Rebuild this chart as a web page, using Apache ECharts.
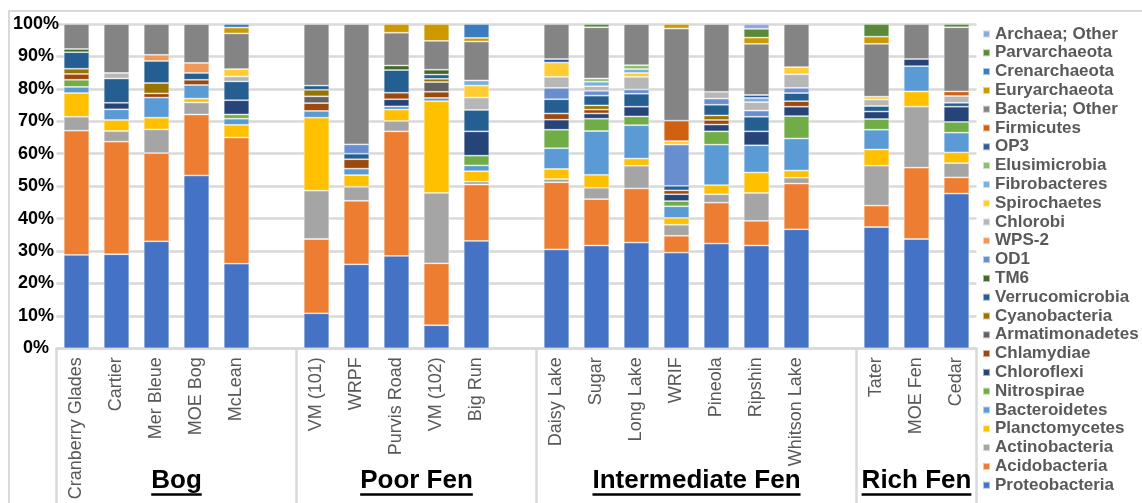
<!DOCTYPE html>
<html>
<head>
<meta charset="utf-8">
<script src="https://cdn.jsdelivr.net/npm/echarts@6/dist/echarts.min.js"></script>
<style>
  html, body { margin: 0; padding: 0; background: #ffffff; }
  #chart { width: 1142px; height: 503px; }
</style>
</head>
<body>
<div id="chart"></div>
<script>
// Peatland sites, grouped by fen/bog type
const groupNames = ['Bog', 'Poor Fen', 'Intermediate Fen', 'Rich Fen'];
const groupSizes = [5, 5, 7, 3];
const sites = [
  'Cranberry Glades', 'Cartier', 'Mer Bleue', 'MOE Bog', 'McLean',
  'VM (101)', 'WRPF', 'Purvis Road', 'VM (102)', 'Big Run',
  'Daisy Lake', 'Sugar', 'Long Lake', 'WRIF', 'Pineola', 'Ripshin', 'Whitson Lake',
  'Tater', 'MOE Fen', 'Cedar'
];

// Relative abundance (%) of each phylum per site, same order as `sites`
const proteobacteria  = [28.8, 29.0, 33.0, 53.3, 26.1, 10.8, 25.9, 28.5, 7.1, 33.1, 30.5, 31.7, 32.6, 29.5, 32.3, 31.7, 36.7, 37.4, 33.7, 47.7];
const acidobacteria   = [38.3, 34.7, 27.2, 18.8, 38.9, 22.9, 19.6, 38.4, 19.1, 17.4, 20.7, 14.3, 16.7, 5.2, 12.6, 7.6, 14.1, 6.6, 22.0, 5.0];
const actinobacteria  = [4.3, 3.3, 7.3, 3.7, 0, 14.9, 4.3, 3.2, 21.7, 0.9, 1.0, 3.5, 7.0, 3.4, 2.6, 8.6, 1.8, 12.3, 18.8, 4.4];
const planctomycetes  = [7.3, 3.4, 3.6, 1.2, 3.9, 22.5, 3.6, 3.5, 28.3, 3.2, 3.1, 4.0, 2.2, 2.1, 2.8, 6.3, 2.2, 5.0, 4.7, 3.3];
const bacteroidetes   = [1.9, 3.3, 6.2, 4.2, 1.9, 2.1, 2.0, 1.0, 1.0, 1.8, 6.4, 13.5, 10.3, 3.6, 12.5, 8.4, 9.9, 6.1, 7.8, 6.1];
const nitrospirae     = [2.2, 0, 0, 0, 1.3, 0, 0, 0, 0, 3.0, 5.7, 3.8, 2.7, 1.6, 4.1, 0, 6.9, 3.3, 0, 3.3];
const chloroflexi     = [0, 2.0, 0, 0, 4.4, 0, 0, 2.2, 0, 7.5, 3.1, 1.6, 3.0, 2.1, 2.1, 4.3, 2.9, 2.3, 2.2, 4.7];
const chlamydiae      = [1.8, 0, 1.3, 1.6, 0, 2.4, 2.9, 2.0, 1.9, 0, 1.9, 1.2, 0, 1.2, 1.4, 0, 1.7, 0, 0, 0];
const armatimonadetes = [0, 0, 0, 0, 0, 2.1, 0, 0, 3.0, 0, 0, 0, 0, 0, 0, 0, 0, 0, 0, 0];
const cyanobacteria   = [1.6, 0, 3.2, 0, 0, 2.0, 0, 0, 1.0, 0, 0, 1.3, 0, 0, 1.4, 0, 0, 0, 0, 0];
const verrucomicrobia = [5.1, 7.5, 6.8, 2.1, 5.8, 1.3, 1.7, 7.0, 1.3, 6.6, 4.4, 3.0, 4.0, 1.4, 3.3, 4.5, 2.5, 1.7, 0, 1.2];
const tm6             = [1.0, 0, 0, 0, 0, 0, 0, 1.4, 1.5, 0, 0, 0, 0, 0, 0, 0, 0, 0, 0, 0];
const od1             = [0, 0, 0, 0, 0, 0, 2.9, 0, 0, 0, 3.5, 1.5, 1.3, 12.7, 1.9, 1.9, 1.6, 0, 0, 0];
const wps2            = [0, 0, 1.9, 3.1, 0, 0, 0, 0, 0, 0, 0, 0, 0, 0, 0, 0, 0, 0, 0, 0];
const chlorobi        = [0, 1.7, 0, 0, 1.5, 0, 0, 0, 0, 3.8, 3.4, 1.4, 3.9, 0, 2.1, 2.6, 4.2, 2.0, 0, 2.1];
const spirochaetes    = [0, 0, 0, 0, 2.3, 0, 0, 0, 0, 3.7, 4.4, 0, 1.2, 1.1, 0, 0, 2.2, 0.9, 0, 0];
const fibrobacteres   = [0, 0, 0, 0, 0, 0, 0, 0, 0, 1.6, 0, 1.4, 1.2, 0, 0, 1.3, 0, 0, 0, 0];
const elusimicrobia   = [0, 0, 0, 0, 0, 0, 0, 0, 0, 0, 0, 1.0, 1.2, 0, 0, 0, 0, 0, 0, 0];
const op3             = [0, 0, 0, 0, 0, 0, 0, 0, 0, 0, 1.1, 0, 0, 0, 0, 0.9, 0, 0, 0, 0];
const firmicutes      = [0, 0, 0, 0, 0, 0, 0, 0, 0, 0, 0, 0, 0, 6.3, 0, 0, 0, 0, 0, 1.4];
const bacteriaOther   = [7.7, 15.1, 9.5, 12.0, 11.0, 19.0, 37.1, 10.1, 8.9, 12.0, 10.8, 15.8, 12.7, 28.4, 20.9, 15.8, 13.3, 16.3, 10.8, 19.8];
const euryarchaeota   = [0, 0, 0, 0, 1.8, 0, 0, 2.7, 5.2, 1.1, 0, 0, 0, 1.4, 0, 1.9, 0, 2.2, 0, 0];
const crenarchaeota   = [0, 0, 0, 0, 1.1, 0, 0, 0, 0, 4.3, 0, 0, 0, 0, 0, 0, 0, 0, 0, 0];
const parvarchaeota   = [0, 0, 0, 0, 0, 0, 0, 0, 0, 0, 0, 1.0, 0, 0, 0, 2.7, 0, 3.9, 0, 1.0];
const archaeaOther    = [0, 0, 0, 0, 0, 0, 0, 0, 0, 0, 0, 0, 0, 0, 0, 1.5, 0, 0, 0, 0];

// Stack order, bottom to top
const phyla = [
  ['Proteobacteria', proteobacteria],
  ['Acidobacteria', acidobacteria],
  ['Actinobacteria', actinobacteria],
  ['Planctomycetes', planctomycetes],
  ['Bacteroidetes', bacteroidetes],
  ['Nitrospirae', nitrospirae],
  ['Chloroflexi', chloroflexi],
  ['Chlamydiae', chlamydiae],
  ['Armatimonadetes', armatimonadetes],
  ['Cyanobacteria', cyanobacteria],
  ['Verrucomicrobia', verrucomicrobia],
  ['TM6', tm6],
  ['OD1', od1],
  ['WPS-2', wps2],
  ['Chlorobi', chlorobi],
  ['Spirochaetes', spirochaetes],
  ['Fibrobacteres', fibrobacteres],
  ['Elusimicrobia', elusimicrobia],
  ['OP3', op3],
  ['Firmicutes', firmicutes],
  ['Bacteria; Other', bacteriaOther],
  ['Euryarchaeota', euryarchaeota],
  ['Crenarchaeota', crenarchaeota],
  ['Parvarchaeota', parvarchaeota],
  ['Archaea; Other', archaeaOther]
];

const phylumColors = {
  'Proteobacteria': '#4472C4', 'Acidobacteria': '#ED7D31', 'Actinobacteria': '#A5A5A5',
  'Planctomycetes': '#FFC000', 'Bacteroidetes': '#5B9BD5', 'Nitrospirae': '#70AD47',
  'Chloroflexi': '#264478', 'Chlamydiae': '#9E480E', 'Armatimonadetes': '#636363',
  'Cyanobacteria': '#997300', 'Verrucomicrobia': '#255E91', 'TM6': '#43682B',
  'OD1': '#698ED0', 'WPS-2': '#F1975A', 'Chlorobi': '#B7B7B7',
  'Spirochaetes': '#FFCD33', 'Fibrobacteres': '#7CAFDD', 'Elusimicrobia': '#8CC168',
  'OP3': '#335AA1', 'Firmicutes': '#D26012', 'Bacteria; Other': '#848484',
  'Euryarchaeota': '#CC9A00', 'Crenarchaeota': '#3A7CC0', 'Parvarchaeota': '#5A8A39',
  'Archaea; Other': '#8FAADC'
};

const FONT = '"Liberation Sans", Arial, sans-serif';

// Category slots: each group's sites, with an empty slot between groups
const slots = [];        // axis labels
const slotSite = [];     // site index per slot, or -1 for spacer
const groupSpans = [];   // [firstSlot, lastSlot] per group, spacer included
let s = 0;
groupSizes.forEach((n, g) => {
  const first = slots.length;
  for (let i = 0; i < n; i++) { slots.push(sites[s]); slotSite.push(s); s++; }
  if (g < groupSizes.length - 1) { slots.push(''); slotSite.push(-1); }
  groupSpans.push([first, slots.length - 1]);
});

const series = phyla.map(([name, values]) => ({
  name: name,
  type: 'bar',
  stack: 'total',
  barWidth: 25.5,
  color: phylumColors[name],
  itemStyle: { borderColor: 'rgba(255,255,255,0.55)', borderWidth: 0.8 },
  emphasis: { disabled: true },
  data: slotSite.map(i => (i < 0 || !values[i]) ? '-' : values[i])
}));

const chart = echarts.init(document.getElementById('chart'), null, { renderer: 'canvas' });

const GRID = { left: 56.5, right: 165.5, top: 24, bottom: 154.7 };

chart.setOption({
  animation: false,
  backgroundColor: '#ffffff',
  grid: GRID,
  legend: {
    orient: 'vertical',
    left: 982,
    top: 24.6,
    bottom: 0,
    padding: 0,
    itemWidth: 7,
    itemHeight: 7,
    itemGap: 0,
    icon: 'rect',
    selectedMode: false,
    data: phyla.map(p => p[0]).reverse(),
    textStyle: { fontFamily: FONT, fontSize: 17, fontWeight: 'bold', color: '#595959', lineHeight: 18.8 }
  },
  xAxis: {
    type: 'category',
    data: slots,
    axisTick: { show: false },
    axisLine: { show: true, lineStyle: { color: '#D9D9D9', width: 2.5 } },
    axisLabel: {
      interval: 0,
      rotate: 90,
      margin: 9,
      fontFamily: FONT,
      fontSize: 18,
      color: '#595959'
    }
  },
  yAxis: {
    type: 'value',
    min: 0,
    max: 100,
    interval: 10,
    axisLine: { show: false },
    axisTick: { show: false },
    splitLine: { lineStyle: { color: '#D9D9D9', width: 2.5 } },
    axisLabel: {
      formatter: '{value}%',
      align: 'center',
      margin: 20.5,
      fontFamily: FONT,
      fontSize: 18,
      fontWeight: 'bold',
      color: '#000000'
    }
  },
  series: series
});

// Group boxes under the category axis, with underlined group names
function drawGroups() {
  const c0 = chart.convertToPixel({ xAxisIndex: 0 }, 0);
  const c1 = chart.convertToPixel({ xAxisIndex: 0 }, 1);
  const slotW = c1 - c0;
  const axisY = 503 - GRID.bottom + 1;
  const bottomY = 503;
  const ctx = document.createElement('canvas').getContext('2d');
  const labelFont = 'bold 26px ' + FONT;
  ctx.font = labelFont;

  const elements = [];
  // Chart frame
  elements.push({
    type: 'rect', silent: true, z: 0,
    shape: { x: 9, y: 11, width: 1400, height: 800 },
    style: { fill: null, stroke: '#D9D9D9', lineWidth: 2 }
  });
  const edges = [chart.convertToPixel({ xAxisIndex: 0 }, 0) - slotW / 2];
  groupSpans.forEach(([a, b]) => edges.push(chart.convertToPixel({ xAxisIndex: 0 }, b) + slotW / 2));
  edges.forEach(x => elements.push({
    type: 'line', silent: true, z: 1,
    shape: { x1: x, y1: axisY - 1, x2: x, y2: bottomY + 5 },
    style: { stroke: '#D9D9D9', lineWidth: 2.5 }
  }));
  groupSpans.forEach(([a, b], g) => {
    const cx = (edges[g] + edges[g + 1]) / 2;
    const w = ctx.measureText(groupNames[g]).width;
    elements.push({
      type: 'text', silent: true, z: 3,
      style: {
        text: groupNames[g], x: cx, y: 480.5,
        align: 'center', verticalAlign: 'middle',
        font: labelFont, fill: '#000000'
      }
    });
    elements.push({
      type: 'line', silent: true, z: 3,
      shape: { x1: cx - w / 2, y1: 494.5, x2: cx + w / 2, y2: 494.5 },
      style: { stroke: '#000000', lineWidth: 2.5 }
    });
  });
  chart.setOption({ graphic: { elements: elements } });
}
drawGroups();
</script>
</body>
</html>
